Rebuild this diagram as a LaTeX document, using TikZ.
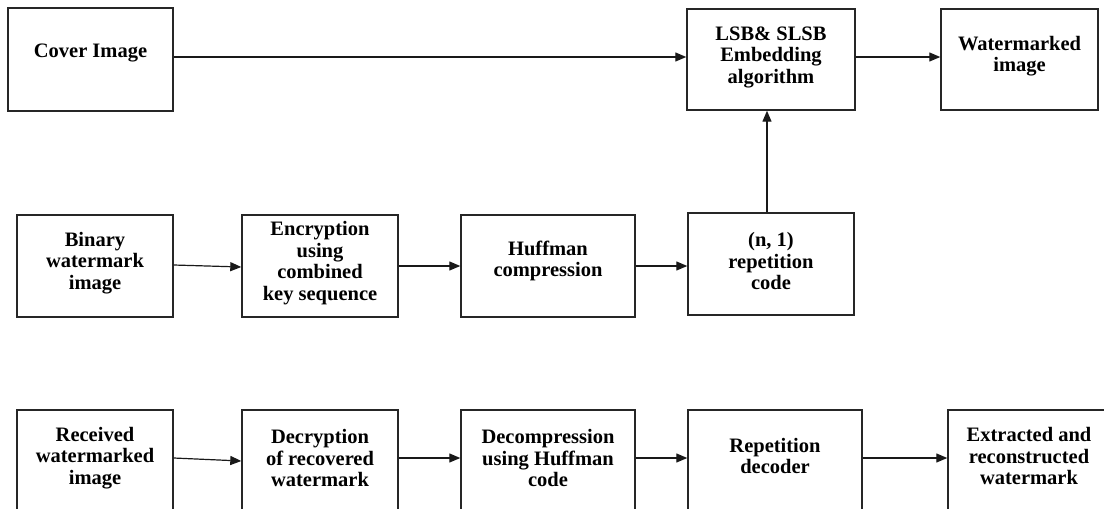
\documentclass[tikz,border=0pt]{standalone}
\usepackage{fontspec}
\setmainfont{Liberation Serif}
\usetikzlibrary{arrows.meta}
\begin{document}
\begin{tikzpicture}[x=1pt,y=-1pt,
  blk/.style={draw=black!85,line width=1.4pt,rectangle,inner sep=0pt},
  txt/.style={inner sep=0pt,align=center,font=\fontsize{20.5}{21.5}\selectfont\bfseries},
  arr/.style={draw=black!90,line width=1.2pt,-{Triangle[length=11pt,width=9pt]}}]
\useasboundingbox (0,0) rectangle (1104,509);
% row 1
\node[blk,minimum width=165pt,minimum height=103pt] (cover) at (90.5,59.5) {};
\node[txt] (coverT) at ([yshift=6.5pt]cover.center) {Cover Image};
\node[blk,minimum width=168pt,minimum height=101pt] (lsb) at (771,59.5) {};
\node[txt] (lsbT) at ([yshift=2.5pt]lsb.center) {LSB\& SLSB\\Embedding\\algorithm};
\node[blk,minimum width=157pt,minimum height=101pt] (wm) at (1019.5,59.5) {};
\node[txt] (wmT) at ([yshift=3.5pt]wm.center) {Watermarked\\image};
% row 2
\node[blk,minimum width=156pt,minimum height=102pt] (bin) at (95,266) {};
\node[txt] (binT) at ([yshift=3pt]bin.center) {Binary\\watermark\\image};
\node[blk,minimum width=156pt,minimum height=102pt] (enc) at (320,266) {};
\node[txt] (encT) at ([yshift=3pt]enc.center) {Encryption\\using\\combined\\key sequence};
\node[blk,minimum width=174pt,minimum height=102pt] (huff) at (548,266) {};
\node[txt] (huffT) at ([yshift=5pt]huff.center) {Huffman\\compression};
\node[blk,minimum width=166pt,minimum height=102pt] (rep) at (771,264) {};
\node[txt] (repT) at ([yshift=3pt]rep.center) {(n, 1)\\repetition\\code};
% row 3
\node[blk,minimum width=156pt,minimum height=102pt] (recv) at (95,461) {};
\node[txt] (recvT) at ([yshift=3pt]recv.center) {Received\\watermarked\\image};
\node[blk,minimum width=156pt,minimum height=102pt] (dec) at (320,461) {};
\node[txt] (decT) at ([yshift=3pt]dec.center) {Decryption\\of recovered\\watermark};
\node[blk,minimum width=174pt,minimum height=102pt] (dcmp) at (548,461) {};
\node[txt] (dcmpT) at ([yshift=3pt]dcmp.center) {Decompression\\using Huffman\\code};
\node[blk,minimum width=174pt,minimum height=102pt] (rdec) at (775,461) {};
\node[txt] (rdecT) at ([yshift=5pt]rdec.center) {Repetition\\decoder};
\node[blk,minimum width=162pt,minimum height=102pt] (ext) at (1029,461) {};
\node[txt] (extT) at ([yshift=5pt]ext.center) {Extracted and\\reconstructed\\watermark};
% connectors
\draw[arr] ([yshift=2.5pt]cover.east) -- ([yshift=2.5pt]cover.east -| lsb.west);
\draw[arr] ([yshift=2.5pt]lsb.east) -- ([yshift=2.5pt]lsb.east -| wm.west);
\draw[arr] ([yshift=1pt]bin.east) -- ([yshift=-1pt]enc.west);
\draw[arr] (enc.east) -- (enc.east -| huff.west);
\draw[arr] (huff.east) -- (huff.east -| rep.west);
\draw[arr] ([xshift=-4pt]rep.north) -- ([xshift=-4pt]lsb.south);
\draw[arr] ([yshift=3pt]recv.east) -- (dec.west);
\draw[arr] ([yshift=3pt]dec.east) -- ([yshift=3pt]dec.east -| dcmp.west);
\draw[arr] ([yshift=3pt]dcmp.east) -- ([yshift=3pt]dcmp.east -| rdec.west);
\draw[arr] ([yshift=3pt]rdec.east) -- ([yshift=3pt]rdec.east -| ext.west);
\end{tikzpicture}
\end{document}
